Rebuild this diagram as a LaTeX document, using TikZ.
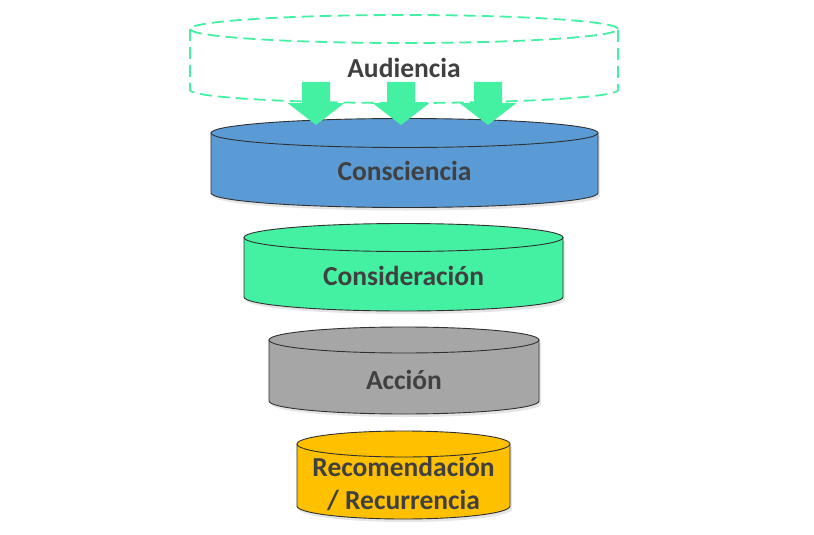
\documentclass[tikz,border=0pt]{standalone}
\usepackage{fontspec}
\setmainfont{Carlito}
\definecolor{fgreen}{HTML}{44F0A2}
\definecolor{fblue}{HTML}{5B9BD5}
\definecolor{fgray}{HTML}{A6A6A6}
\definecolor{fgold}{HTML}{FFC000}
\definecolor{ftext}{HTML}{404040}
\definecolor{fline}{HTML}{303030}
\tikzset{
  cylline/.style={draw=fline, line width=0.9pt},
  lbl/.style={text=ftext, font=\fontsize{27.5}{33}\selectfont\bfseries, align=center, inner sep=0pt},
  blockarrow/.style={fill=fgreen, draw=none},
  dashcyl/.style={draw=fgreen, line width=1.8pt, dash pattern=on 12pt off 6pt}
}
% #1 name, #2 cx, #3 half width, #4 top y, #5 bottom y, #6 ry, #7 colour, #8 text y, #9 text
\newcommand\funnelcyl[9]{%
  \fill[black, opacity=0.10] (#2-#3+2,#4+3) -- (#2-#3+2,#5+3) arc[start angle=180,end angle=360,x radius=#3pt,y radius=#6pt] -- (#2+#3+2,#4+3) -- cycle;
  \fill[#7] (#2-#3,#4) -- (#2-#3,#5) arc[start angle=180,end angle=360,x radius=#3pt,y radius=#6pt] -- (#2+#3,#4) -- cycle;
  \draw[cylline] (#2-#3,#4) -- (#2-#3,#5) arc[start angle=180,end angle=360,x radius=#3pt,y radius=#6pt] -- (#2+#3,#4);
  \filldraw[cylline, fill=#7] (#2,#4) ellipse[x radius=#3pt, y radius=#6pt];
  \node[lbl] (#1) at (#2,#8) {#9};
}
% #1 name, #2 cx
\newcommand\funnelarrow[2]{%
  \fill[blockarrow] (#2-14,82) -- (#2+14,82) -- (#2+14,103) -- (#2+28.5,103) -- (#2,125) -- (#2-28.5,103) -- (#2-14,103) -- cycle;
  \coordinate (#1) at (#2,125);
}
\begin{document}
\begin{tikzpicture}[x=1pt,y=-1pt]
\useasboundingbox[fill=white] (0,0) rectangle (814,535);
% audience (dashed)
\draw[dashcyl] (404-214,29) -- (404-214,90) arc[start angle=180,end angle=360,x radius=214pt,y radius=13pt] -- (404+214,29);
\draw[dashcyl] (404,29) ellipse[x radius=214pt, y radius=14pt];
\node[lbl] (aud) at (404,68) {Audiencia};
% funnel levels
\funnelcyl{cons}{404.5}{193.5}{133}{193}{14.5}{fblue}{171}{Consciencia}
\funnelarrow{a1}{316}
\funnelarrow{a2}{401}
\funnelarrow{a3}{488}
\funnelcyl{consid}{403.5}{159.5}{237.5}{297}{14}{fgreen}{276}{Consideración}
\funnelcyl{acc}{404}{135}{340}{401}{13}{fgray}{380}{Acción}
\funnelcyl{reco}{403.5}{106.5}{444}{506}{13}{fgold}{484}{Recomendación\\/ Recurrencia}
\end{tikzpicture}
\end{document}
